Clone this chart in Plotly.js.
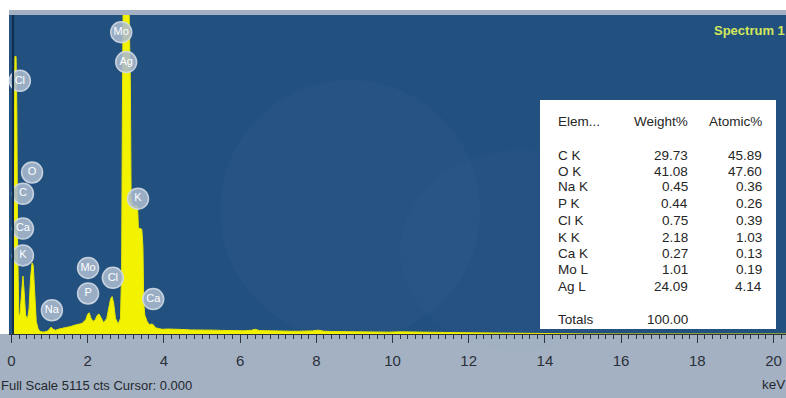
<!DOCTYPE html>
<html>
<head>
<meta charset="utf-8">
<script src="https://cdn.plot.ly/plotly-3.0.1.min.js"></script>
<style>html,body{margin:0;padding:0;background:#fff;}#chart{width:786px;height:398px;}</style>
</head>
<body>
<div id="chart"></div>
<script>
// ---- spectrum (keV, counts) ----
const energy = [0.00,0.03,0.05,0.07,0.09,0.12,0.14,0.16,0.19,0.22,0.25,0.28,0.30,0.33,0.37,0.42,0.46,0.50,0.54,0.57,0.61,0.65,0.70,0.75,0.85,0.95,1.00,1.04,1.08,1.15,1.25,1.35,1.45,1.55,1.65,1.75,1.85,1.95,2.00,2.04,2.08,2.14,2.20,2.25,2.30,2.35,2.42,2.50,2.56,2.60,2.64,2.68,2.73,2.80,2.86,2.89,2.91,2.93,3.00,3.08,3.12,3.14,3.17,3.22,3.28,3.31,3.33,3.38,3.42,3.45,3.47,3.50,3.56,3.62,3.68,3.72,3.78,3.85,3.95,4.10,4.30,4.50,4.70,4.90,5.10,5.30,5.50,5.70,5.90,6.10,6.30,6.40,6.50,6.70,6.90,7.10,7.30,7.50,7.70,7.90,8.05,8.20,8.40,8.60,8.80,9.00,9.30,9.60,9.90,10.20,10.50,10.80,11.10,11.40,11.80,12.20,12.60,13.00,13.50,14.00,14.50,15.00,16.00,17.00,18.00,19.00,20.00,20.40];
const counts = [0,0,1500,3800,4450,4450,3600,1500,320,300,600,900,930,700,300,240,400,900,1140,1100,600,200,80,40,30,50,80,110,80,60,80,90,110,120,140,160,170,230,320,340,260,200,230,300,320,260,180,250,420,560,600,500,250,160,250,1000,3500,5300,5400,5400,4000,2200,2080,2050,2060,2040,1700,1690,1680,1400,500,300,200,150,160,150,100,90,75,80,70,72,65,68,60,62,58,55,57,52,60,75,55,50,48,47,45,44,42,50,62,45,40,38,37,35,34,32,30,35,30,32,27,25,22,18,15,12,9,6,4,2,1,0,0,0,0,0];

// ---- element markers on the spectrum ----
const peakLabels = ['Cl','O','C','Ca','K','Na','Mo','P','Cl','K','Ca','Mo','Ag'];
const peakKeV    = [0.22,0.54,0.30,0.30,0.30,1.06,2.01,2.01,2.66,3.32,3.72,2.88,3.01];
const peakCts    = [4060,2590,2250,1690,1260,380,1060,650,900,2170,560,4840,4360];

// ---- quantification table ----
const tblHeader = ['Elem...','Weight%','Atomic%'];
const tblElem   = ['C K','O K','Na K','P K','Cl K','K K','Ca K','Mo L','Ag L'];
const tblWeight = ['29.73','41.08','0.45','0.44','0.75','2.18','0.27','1.01','24.09'];
const tblAtomic = ['45.89','47.60','0.36','0.26','0.39','1.03','0.13','0.19','4.14'];
const tblTotalLabel = 'Totals';
const tblTotal = '100.00';

// ---- axis ----
const tickVals = [0,2,4,6,8,10,12,14,16,18,20];
const tickText = ['0','2','4','6','8','10','12','14','16','18','20'];
const fullScale = 5115;

// ---- layout helpers (pixel -> paper) ----
const L = 9, R = 786, T = 15, B = 334;
const px = p => (p - L) / (R - L);
const py = p => (B - p) / (B - T);

const sans = 'Liberation Sans, Arial, sans-serif';

const spectrum = {
  x: energy, y: counts, type: 'scatter', mode: 'lines',
  line: {color: '#e6e600', width: 1},
  fill: 'tozeroy', fillcolor: '#f3f300',
  hoverinfo: 'skip'
};
const badges = {
  x: peakKeV, y: peakCts, type: 'scatter', mode: 'markers+text',
  text: peakLabels, textposition: 'middle center',
  textfont: {family: sans, size: 11, color: '#ffffff'},
  marker: {symbol: 'circle', size: 21, color: 'rgba(170,185,207,0.88)',
           line: {color: 'rgba(210,218,230,0.9)', width: 1.5}},
  cliponaxis: false, hoverinfo: 'skip'
};

const shapes = [
  {type:'rect', xref:'paper', yref:'paper', x0:px(0), x1:px(786), y0:py(10), y1:py(0), fillcolor:'#ffffff', line:{width:0}, layer:'below'},
  {type:'rect', xref:'paper', yref:'paper', x0:px(0), x1:px(9), y0:py(334), y1:py(10), fillcolor:'#ffffff', line:{width:0}, layer:'below'},
  {type:'circle', xref:'paper', yref:'paper', x0:px(220), x1:px(480), y0:py(340), y1:py(80), fillcolor:'rgba(120,160,200,0.05)', line:{width:0}, layer:'below'},
  {type:'circle', xref:'paper', yref:'paper', x0:px(400), x1:px(640), y0:py(350), y1:py(150), fillcolor:'rgba(120,160,200,0.04)', line:{width:0}, layer:'below'},
  {type:'line', xref:'x', yref:'paper', x0:0.04, x1:0.04, y0:0, y1:1, line:{color:'#132d4d', width:2}},
  {type:'rect', xref:'paper', yref:'paper', x0:px(540), x1:px(776), y0:py(329), y1:py(100), fillcolor:'#ffffff', line:{width:0}, layer:'above'}
];

const annotations = [];
const tableFont = {family: sans, size: 13.5, color: '#262626'};
function addText(text, x, y, anchor, font) {
  annotations.push({text: text, xref:'paper', yref:'paper', x: px(x), y: py(y),
    xanchor: anchor, yanchor: 'middle', showarrow: false, font: font, borderpad: 0});
}
addText(tblHeader[0], 557, 122, 'left', tableFont);
addText(tblHeader[1], 689, 122, 'right', tableFont);
addText(tblHeader[2], 763, 122, 'right', tableFont);
const rowY = [155,171,187,203,220,237,253,269,286];
tblElem.forEach((e, i) => {
  addText(e, 557, rowY[i], 'left', tableFont);
  addText(tblWeight[i], 689, rowY[i], 'right', tableFont);
  addText(tblAtomic[i], 763, rowY[i], 'right', tableFont);
});
addText(tblTotalLabel, 557, 319, 'left', tableFont);
addText(tblTotal, 689, 319, 'right', tableFont);

addText('Spectrum 1', 786, 30, 'right', {family: sans, size: 13, color: '#d4e85c', weight: 'bold'});
addText('Full Scale 5115 cts Cursor: 0.000', 0, 385, 'left', {family: sans, size: 13, color: '#24282e'});
addText('keV', 786, 384, 'right', {family: sans, size: 13.5, color: '#24282e'});

const layout = {
  width: 786, height: 398,
  margin: {l: L, r: 786 - R, t: T, b: 398 - B, pad: 0},
  paper_bgcolor: '#a4b1c3',
  plot_bgcolor: '#22507f',
  showlegend: false,
  xaxis: {
    range: [(L - 11.5) / 38.1, (R - 11.5) / 38.1],
    tickvals: tickVals, ticktext: tickText,
    ticks: 'outside', ticklen: 8, tickwidth: 1, tickcolor: '#2d3440',
    minor: {dtick: 0.2, ticks: 'outside', ticklen: 4, tickcolor: '#2d3440', tickwidth: 1},
    showline: true, linecolor: '#2d3440', linewidth: 1,
    showgrid: false, zeroline: false,
    tickfont: {family: sans, size: 15, color: '#2a2f38'},
    ticklabelstandoff: 5, fixedrange: true
  },
  yaxis: {
    range: [0, fullScale], visible: false, showgrid: false, zeroline: false, fixedrange: true
  },
  shapes: shapes,
  annotations: annotations
};

Plotly.newPlot('chart', [spectrum, badges], layout, {staticPlot: true, displayModeBar: false});
</script>
</body>
</html>
